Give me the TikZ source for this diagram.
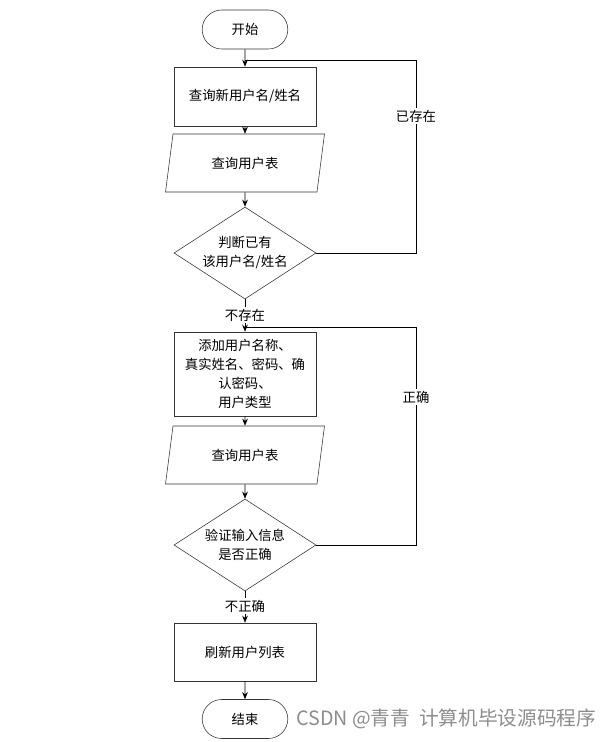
\documentclass[tikz,border=0pt]{standalone}
\usepackage{fontspec}
\newfontfamily\cjk{Noto Sans CJK SC}
\usetikzlibrary{shapes.geometric}
\usetikzlibrary{shapes.misc}
\usetikzlibrary{arrows.meta}
\newcommand*{\boxw }{3.55cm}
\newcommand*{\midx }{6.125}
\newcommand*{\loopx}{10.4}

\begin{document}
\begin{tikzpicture}[font=\cjk\fontsize{9.5}{13.5}\selectfont,
        term/.style  = {draw=black!80, rounded rectangle, minimum width=2.375cm, minimum height=0.975cm},
        proc/.style  = {draw=black!80, rectangle, minimum width=\boxw, align=center},
        data/.style  = {draw=black!80, trapezium, trapezium left angle=71, trapezium right angle=109,
                        trapezium stretches body, minimum width=3.975cm, minimum height=1.45cm},
        test/.style  = {draw=black!80, diamond, shape aspect=1.54, inner sep=0pt,
                        minimum width=\boxw, minimum height=2.3cm, align=center},
        flow/.style  = {draw=black, -{Stealth[length=5pt,width=4pt]}},
        tag/.style   = {fill=white, inner sep=1pt}]
    \useasboundingbox (0,0) rectangle (15.35,-18.55);
        \node [term] (start) at (\midx,-0.7375) {开始};
        \node [proc, minimum height=1.475cm] (ask) at (\midx,-2.4125) {查询新用户名/姓名};
        \node [data] (tab1) at (\midx,-4.075) {查询用户表};
        \node [test] (dup) at (\midx,-6.325) {判断已有\\该用户名/姓名};
        \node [proc, minimum height=2.1cm] (add) at (\midx,-9.35) {添加用户名称、\\真实姓名、密码、确\\认密码、\\用户类型};
        \node [data] (tab2) at (\midx,-11.375) {查询用户表};
        \node [test] (chk) at (\midx,-13.625) {验证输入信息\\是否正确};
        \node [proc, minimum height=1.45cm] (upd) at (\midx,-16.3) {刷新用户列表};
        \node [term] (stop) at (\midx,-17.975) {结束};
        % loop joints
        \coordinate (j1) at (\midx,-1.5);
        \coordinate (r1) at (\loopx,-1.5);
        \coordinate (j2) at (\midx,-8.175);
        \coordinate (r2) at (\loopx,-8.175);
        \draw [flow] (start) -- (ask);
        \draw [flow] (ask) -- (tab1);
        \draw [flow] (tab1) -- (dup);
        \draw [flow] (dup) -- (add);
        \draw [flow] (add) -- (tab2);
        \draw [flow] (tab2) -- (chk);
        \draw [flow] (chk) -- (upd);
        \draw [flow] (upd) -- (stop);
        \draw (dup.east) -| (r1) -- (j1);
        \draw (chk.east) -| (r2) -- (j2);
        \node [tag] (yes1) at (\loopx,-2.9) {已存在};
        \node [tag] (no1) at (\midx,-7.875) {不存在};
        \node [tag] (yes2) at (\loopx,-9.925) {正确};
        \node [tag] (no2) at (\midx,-15.15) {不正确};
        \node [anchor=west, text=black!45, inner sep=0pt, font=\cjk\fontsize{14}{16}\selectfont] (mark) at (7.4,-17.975) {CSDN @青青\ \ 计算机毕设源码程序};
    \end{tikzpicture}
\end{document}
